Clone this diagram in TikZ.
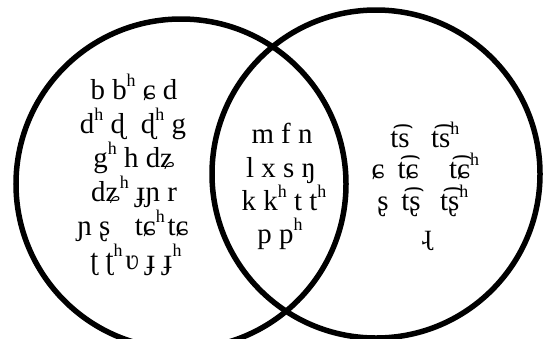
\documentclass[tikz,border=0pt]{standalone}
\usepackage{fontspec}
\setmainfont{Liberation Serif}
\newcommand\asp{\raisebox{0.45em}{\fontsize{18}{18}\selectfont h}}
\begin{document}
\begin{tikzpicture}[x=1bp,y=-1bp,
  ring/.style={draw=black, line width=5.5bp},
  ipa/.style={font=\fontsize{29}{29}\selectfont, anchor=base, inner sep=0pt}]
\useasboundingbox (0,0) rectangle (544,338);
\draw[ring] (181,184) circle[radius=165bp];
\draw[ring] (376,174) circle[radius=164bp];
% left set
\node[ipa] (l1) at (134,99)  {b b\asp{} ɕ d};
\node[ipa] (l2) at (133,133) {d\asp{} ɖ\hspace{0.3em} ɖ\asp{} g};
\node[ipa] (l3) at (134,167) {g\asp{} h dʑ};
\node[ipa] (l4) at (134,201) {dʑ\asp{} ɟɲ r};
\node[ipa] (l5) at (133,235) {ɲ ʂ\hspace{0.6em} tɕ\asp\hspace{0.1em}tɕ};
\node[ipa] (l6) at (136,269) {ʈ ʈ\asp\hspace{0.1em}ʋ ɟ ɟ\asp};
% intersection
\node[ipa] (m1) at (282,143) {m f n};
\node[ipa] (m2) at (281,177) {l x s ŋ};
\node[ipa] (m3) at (284,210) {k k\asp{} t t\asp};
\node[ipa] (m4) at (280,243) {p p\asp};
% right set
\node[ipa] (r11) at (400,147) {t͡s};
\node[ipa, anchor=base west] (r12) at (431,147) {t͡s\asp};
\node[ipa] (r21) at (378,178) {ɕ};
\node[ipa] (r22) at (408,178) {t͡ɕ};
\node[ipa, anchor=base west] (r23) at (449,178) {t͡ɕ\asp};
\node[ipa] (r31) at (383,210) {ʂ};
\node[ipa] (r32) at (411,210) {t͡ʂ};
\node[ipa, anchor=base west] (r33) at (440,210) {t͡ʂ\asp};
\node[ipa] (r4) at (427,244) {ɻ};
\end{tikzpicture}
\end{document}
